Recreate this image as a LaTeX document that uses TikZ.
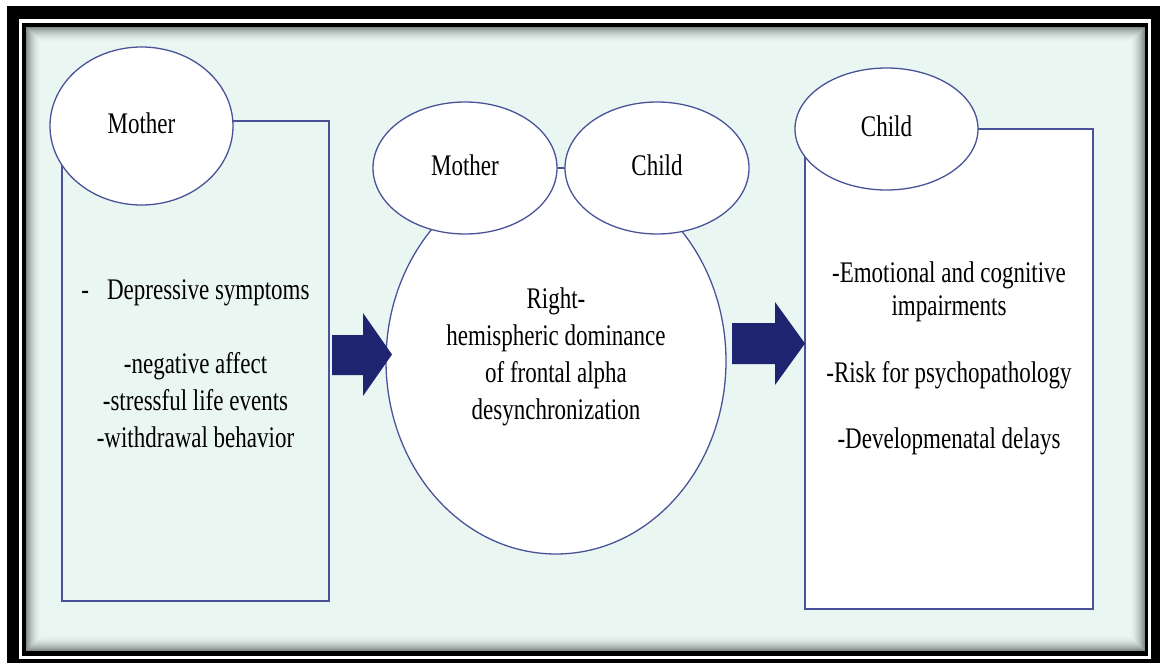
\documentclass[tikz,border=0pt]{standalone}
\usepackage{fontspec}
\usepackage{graphicx}
\setmainfont{Liberation Serif}
\usetikzlibrary{shapes.geometric}
\definecolor{mint}{HTML}{EAF6F2}
\definecolor{edge}{HTML}{4A5398}
\definecolor{navy}{HTML}{1F2470}
\definecolor{shade}{HTML}{5E6864}
% tall, narrow lettering
\newcommand\tallbox[1]{\scalebox{1}[1.3]{\begin{tabular}{@{}c@{}}#1\end{tabular}}}
\begin{document}
\begin{tikzpicture}[x=1pt,y=-1pt,
  shapeline/.style={draw=edge, line width=1.3pt},
  oval/.style={shapeline, ellipse, fill=white, inner sep=0pt},
  panel/.style={shapeline, rectangle, inner sep=0pt},
  words/.style={font=\fontsize{23}{28.5}\selectfont, inner sep=0pt, text=black},
  tightwords/.style={font=\fontsize{23}{25.5}\selectfont, inner sep=0pt, text=black},
  blockarrow/.style={fill=navy, draw=none}]
\useasboundingbox (0,0) rectangle (1160,666);
% double black frame
\fill[black] (7,6) rectangle (1160,663);
\fill[white] (19,19) rectangle (1151,659);
\fill[black] (22,23) rectangle (1148,656);
\fill[mint] (26,27) rectangle (1145,651);
% inner shadow along the frame
\foreach \i in {0,...,15}{
  \pgfmathsetmacro\p{75*(1-\i/16)^2}
  \draw[draw=shade!\p!mint, line width=1.05pt]
    (26.5+\i,27.5+\i) rectangle (1144.5-\i,650.5-\i);
}
% left panel: mother
\node[panel, fill=mint, minimum width=267pt, minimum height=480pt] (leftbox) at (195.5,361) {};
\node[oval, minimum width=183pt, minimum height=158pt] (mother1) at (141.5,126) {};
\node[words] (mother1label) at (mother1) {\tallbox{Mother}};
\node[words] (leftlist) at (195.5,366) {\tallbox{-\hspace{18pt}Depressive symptoms\\[28.5pt]-negative affect\\-stressful life events\\-withdrawal behavior}};
% middle: shared dominance
\node[oval, minimum width=340pt, minimum height=386pt] (dominance) at (556,361) {};
\node[oval, minimum width=184pt, minimum height=132pt] (mother2) at (465,168) {};
\node[oval, minimum width=184pt, minimum height=132pt] (child2) at (657,168) {};
\draw[shapeline] (mother2.east) -- (child2.west);
\node[words] (mother2label) at (mother2) {\tallbox{Mother}};
\node[words] (child2label) at (child2) {\tallbox{Child}};
\node[words] (midtext) at (556,357) {\tallbox{Right-\\hemispheric dominance\\of frontal alpha\\desynchronization}};
% right panel: child
\node[panel, fill=white, minimum width=288pt, minimum height=480pt] (rightbox) at (949,369) {};
\node[oval, minimum width=183pt, minimum height=122pt] (child3) at (886.5,129) {};
\node[words] (child3label) at (child3) {\tallbox{Child}};
\node[tightwords] (rightlist) at (949,359) {\tallbox{-Emotional and cognitive\\impairments\\[25.5pt]-Risk for psychopathology\\[25.5pt]-Developmenatal delays}};
% block arrows
\fill[blockarrow] (332,335) -- (363,335) -- (363,313) -- (392,354.5) -- (363,396) -- (363,375) -- (332,375) -- cycle;
\fill[blockarrow] (732,323) -- (775,323) -- (775,302) -- (805,343.5) -- (775,385) -- (775,364) -- (732,364) -- cycle;
\end{tikzpicture}
\end{document}
